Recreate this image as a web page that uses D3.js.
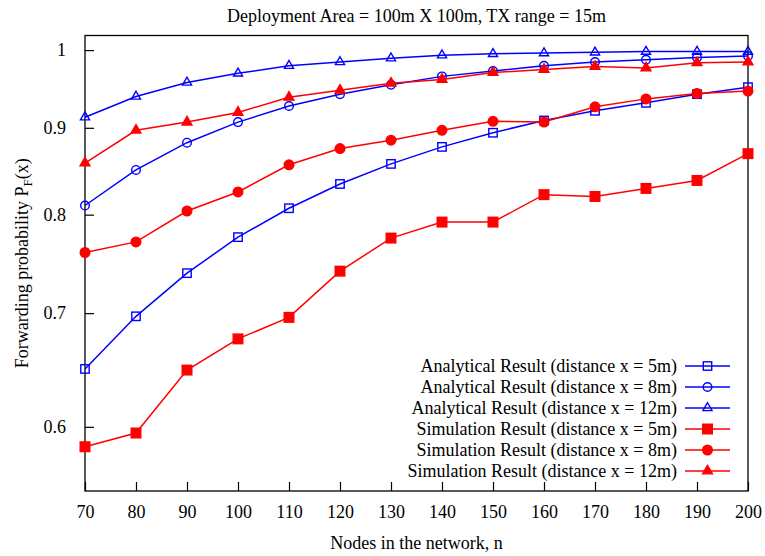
<!DOCTYPE html>
<html>
<head>
<meta charset="utf-8">
<script src="https://cdn.jsdelivr.net/npm/d3@7"></script>
<style>
  html, body { margin: 0; padding: 0; background: #fff; }
  svg text { font-family: "Liberation Serif", "Times New Roman", serif; fill: #000; }
</style>
</head>
<body>
<svg id="chart" width="765" height="556"></svg>
<script>
// Number of nodes in the network
const nodes = [70, 80, 90, 100, 110, 120, 130, 140, 150, 160, 170, 180, 190, 200];

// Forwarding probability, analytical model
const analytical5m  = [0.649, 0.697, 0.739, 0.776, 0.807, 0.834, 0.857, 0.877, 0.894, 0.909, 0.921, 0.931, 0.942, 0.951];
const analytical8m  = [0.810, 0.850, 0.882, 0.907, 0.927, 0.942, 0.954, 0.965, 0.972, 0.979, 0.984, 0.987, 0.990, 0.992];
const analytical12m = [0.913, 0.939, 0.957, 0.969, 0.979, 0.984, 0.989, 0.993, 0.995, 0.996, 0.997, 0.998, 0.998, 0.998];

// Forwarding probability, simulation
const simulation5m  = [0.584, 0.595, 0.648, 0.676, 0.696, 0.741, 0.775, 0.792, 0.792, 0.822, 0.820, 0.829, 0.838, 0.869];
const simulation8m  = [0.760, 0.771, 0.804, 0.825, 0.856, 0.875, 0.885, 0.897, 0.908, 0.907, 0.926, 0.936, 0.943, 0.946];
const simulation12m = [0.858, 0.897, 0.907, 0.919, 0.938, 0.947, 0.956, 0.961, 0.970, 0.974, 0.978, 0.976, 0.983, 0.984];

const yTicks = [0.6, 0.7, 0.8, 0.9, 1];
const xTicks = nodes;

const series = [
  { label: "Analytical Result (distance x = 5m)",  values: analytical5m,  color: "#0000ff", shape: "square",   filled: false },
  { label: "Analytical Result (distance x = 8m)",  values: analytical8m,  color: "#0000ff", shape: "circle",   filled: false },
  { label: "Analytical Result (distance x = 12m)", values: analytical12m, color: "#0000ff", shape: "triangle", filled: false },
  { label: "Simulation Result (distance x = 5m)",  values: simulation5m,  color: "#ff0000", shape: "square",   filled: true },
  { label: "Simulation Result (distance x = 8m)",  values: simulation8m,  color: "#ff0000", shape: "circle",   filled: true },
  { label: "Simulation Result (distance x = 12m)", values: simulation12m, color: "#ff0000", shape: "triangle", filled: true }
];

const svg = d3.select("#chart");
const plotLeft = 85, plotRight = 748, plotTop = 35.5, plotBottom = 491;

const x = d3.scaleLinear().domain([70, 200]).range([plotLeft, plotRight]);
const y = d3.scaleLog().domain([0.55, 1.02]).range([plotBottom, plotTop]);

// Title
svg.append("text")
  .attr("x", (plotLeft + plotRight) / 2).attr("y", 22)
  .attr("text-anchor", "middle").attr("font-size", 18)
  .text("Deployment Area = 100m X 100m, TX range = 15m");

// Axes with inward ticks
const xAxis = svg.append("g").attr("transform", `translate(0,${plotBottom})`)
  .call(d3.axisBottom(x).tickValues(xTicks).tickSize(-9).tickPadding(14).tickFormat(d3.format("d")));
const yAxis = svg.append("g").attr("transform", `translate(${plotLeft},0)`)
  .call(d3.axisLeft(y).tickValues(yTicks).tickSize(-9).tickPadding(19).tickFormat(d => d === 1 ? "1" : d3.format(".1f")(d)));
[xAxis, yAxis].forEach(a => {
  a.select(".domain").remove();
  a.selectAll(".tick line").attr("stroke", "#000").attr("stroke-width", 1.2);
  a.selectAll(".tick text").attr("font-size", 18)
    .style("font-family", "'Liberation Serif', 'Times New Roman', serif").attr("fill", "#000");
});

// Plot frame
svg.append("rect")
  .attr("x", plotLeft).attr("y", plotTop).attr("width", plotRight - plotLeft).attr("height", plotBottom - plotTop)
  .attr("fill", "none").attr("stroke", "#000").attr("stroke-width", 1.3);

// Axis titles
svg.append("text")
  .attr("x", (plotLeft + plotRight) / 2).attr("y", 549)
  .attr("text-anchor", "middle").attr("font-size", 18)
  .text("Nodes in the network, n");

const yTitle = svg.append("text")
  .attr("transform", `translate(28,${(plotTop + plotBottom) / 2}) rotate(-90)`)
  .attr("text-anchor", "middle").attr("font-size", 18);
yTitle.append("tspan").text("Forwarding probability P");
yTitle.append("tspan").attr("font-size", 13).attr("dy", 4).text("F");
yTitle.append("tspan").attr("dy", -4).text("(x)");

// Marker drawing
function drawMarker(g, s, cx, cy) {
  const fill = s.filled ? s.color : "none";
  if (s.shape === "square") {
    const h = s.filled ? 4.8 : 4.2;
    g.append("rect").attr("x", cx - h).attr("y", cy - h).attr("width", 2 * h).attr("height", 2 * h)
      .attr("fill", fill).attr("stroke", s.color).attr("stroke-width", 1.4);
  } else if (s.shape === "circle") {
    g.append("circle").attr("cx", cx).attr("cy", cy).attr("r", s.filled ? 4.8 : 4.3)
      .attr("fill", fill).attr("stroke", s.color).attr("stroke-width", 1.4);
  } else {
    g.append("path").attr("transform", `translate(${cx},${cy})`)
      .attr("d", d3.symbol(d3.symbolTriangle, s.filled ? 42 : 36)())
      .attr("fill", fill).attr("stroke", s.color).attr("stroke-width", 1.4);
  }
}

const line = d3.line().x(d => x(d[0])).y(d => y(d[1]));

series.forEach(s => {
  const pts = nodes.map((n, i) => [n, s.values[i]]);
  const g = svg.append("g");
  g.append("path").attr("d", line(pts)).attr("fill", "none")
    .attr("stroke", s.color).attr("stroke-width", 1.5);
  pts.forEach(p => drawMarker(g, s, x(p[0]), y(p[1])));
});

// Legend
const legend = svg.append("g");
series.forEach((s, i) => {
  const ry = 366 + i * 21;
  legend.append("text").attr("x", 677).attr("y", ry + 6)
    .attr("text-anchor", "end").attr("font-size", 18).text(s.label);
  legend.append("line").attr("x1", 685).attr("x2", 730).attr("y1", ry).attr("y2", ry)
    .attr("stroke", s.color).attr("stroke-width", 1.5);
  drawMarker(legend, s, 707.5, ry);
});
</script>
</body>
</html>
